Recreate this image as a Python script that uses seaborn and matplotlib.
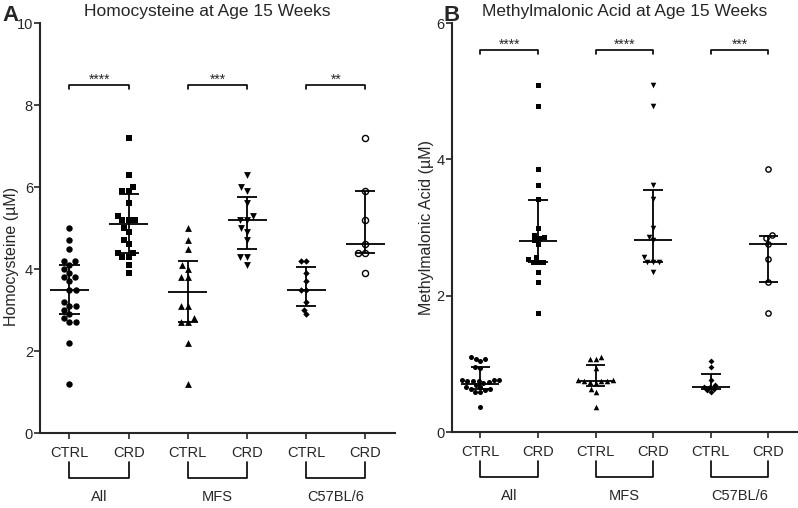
import numpy as np
import pandas as pd
import matplotlib
matplotlib.use("Agg")
import matplotlib.pyplot as plt
import seaborn as sns

# --- data ---
order = ["All CTRL", "All CRD", "MFS CTRL", "MFS CRD", "C57 CTRL", "C57 CRD"]
tick_names = ["CTRL", "CRD", "CTRL", "CRD", "CTRL", "CRD"]
strains = ["All", "MFS", "C57BL/6"]
markers = ["o", "s", "^", "v", "D", "o"]

# Homocysteine (uM)
hcy_all_ctrl = [5.0, 4.7, 4.5, 4.2, 4.2, 4.1, 4.0, 3.9, 3.8, 3.8, 3.7, 3.5, 3.5, 3.2,
                3.1, 3.1, 3.0, 2.9, 2.8, 2.7, 2.7, 2.2, 1.2]
hcy_all_crd = [7.2, 6.3, 6.0, 5.9, 5.9, 5.6, 5.3, 5.2, 5.2, 5.2, 5.0, 4.9, 4.7, 4.6,
               4.4, 4.4, 4.3, 4.3, 4.1, 3.9]
hcy_mfs_ctrl = [5.0, 4.7, 4.5, 4.1, 4.0, 3.8, 3.8, 3.1, 3.1, 2.8, 2.7, 2.7, 2.2, 1.2]
hcy_mfs_crd = [6.3, 6.0, 5.9, 5.6, 5.3, 5.2, 5.2, 5.0, 4.9, 4.7, 4.3, 4.3, 4.1]
hcy_c57_ctrl = [4.2, 4.2, 3.9, 3.7, 3.5, 3.5, 3.2, 3.0, 2.9]
hcy_c57_crd = [7.2, 5.9, 5.2, 4.6, 4.4, 4.4, 3.9]
# median, 25th, 75th percentile bars
hcy_median = [3.5, 5.1, 3.45, 5.2, 3.5, 4.6]
hcy_q1 = [2.9, 4.4, 2.7, 4.5, 3.1, 4.4]
hcy_q3 = [4.1, 5.84, 4.2, 5.75, 4.05, 5.9]
hcy_stars = ["****", "***", "**"]

# Methylmalonic acid (uM)
mma_all_ctrl = [1.10, 1.07, 1.07, 1.04, 0.95, 0.94, 0.76, 0.76, 0.76, 0.75, 0.75, 0.75,
                0.74, 0.72, 0.69, 0.66, 0.66, 0.63, 0.63, 0.62, 0.59, 0.58, 0.37]
mma_all_crd = [5.09, 4.79, 3.86, 3.62, 3.42, 2.99, 2.89, 2.86, 2.85, 2.81, 2.76, 2.57,
               2.54, 2.50, 2.50, 2.50, 2.35, 2.20, 1.74]
mma_mfs_ctrl = [1.10, 1.07, 1.07, 0.94, 0.76, 0.76, 0.75, 0.75, 0.75, 0.74, 0.72, 0.63,
                0.58, 0.37]
mma_mfs_crd = [5.09, 4.79, 3.62, 3.42, 2.99, 2.86, 2.81, 2.57, 2.50, 2.50, 2.50, 2.35]
mma_c57_ctrl = [1.04, 0.95, 0.76, 0.69, 0.66, 0.66, 0.63, 0.62, 0.59]
mma_c57_crd = [3.86, 2.89, 2.85, 2.76, 2.54, 2.20, 1.74]
mma_median = [0.71, 2.80, 0.75, 2.82, 0.66, 2.76]
mma_q1 = [0.63, 2.49, 0.68, 2.49, 0.63, 2.20]
mma_q3 = [0.95, 3.41, 0.99, 3.55, 0.85, 2.88]
mma_stars = ["****", "****", "***"]

sns.set_theme(style="ticks")
plt.rcParams["font.family"] = ["Liberation Sans", "DejaVu Sans"]


def draw_panel(ax, groups, med, q1, q3, stars, star_y, drop, ylim, yticks,
               ylabel, title, sizes, label_xy, title_x):
    df = pd.DataFrame({
        "group": np.repeat(order, [len(g) for g in groups]),
        "value": np.concatenate(groups),
    })
    for name, mk, sz in zip(order, markers, sizes):
        sub = df[df["group"] == name]
        hollow = name == "C57 CRD"
        sns.swarmplot(data=sub, x="group", y="value", order=order, ax=ax,
                      marker=mk, size=sz,
                      color="white" if hollow else "black",
                      edgecolor="black", linewidth=1.0 if hollow else 0)

    # median with interquartile range
    for i in range(len(order)):
        ax.hlines(med[i], i - 0.33, i + 0.33, color="black", lw=1.3, zorder=3)
        ax.hlines([q1[i], q3[i]], i - 0.17, i + 0.17, color="black", lw=1.3, zorder=3)
        ax.vlines(i, q1[i], q3[i], color="black", lw=1.3, zorder=3)

    # significance brackets
    for k, s in enumerate(stars):
        x0, x1 = 2 * k, 2 * k + 1
        ax.plot([x0, x0, x1, x1], [star_y - drop, star_y, star_y, star_y - drop],
                color="black", lw=1.2, clip_on=False)
        ax.text((x0 + x1) / 2, star_y + drop * 0.3, s, ha="center", va="baseline",
                fontsize=10)

    ax.set_xlim(-0.5, 5.5)
    ax.set_ylim(*ylim)
    ax.set_yticks(yticks)
    ax.set_xticks(range(6))
    ax.set_xticklabels(tick_names, fontsize=10.5)
    ax.set_xlabel("")
    ax.set_ylabel(ylabel, fontsize=11.5)
    ax.yaxis.set_label_coords(*label_xy)
    ax.set_title(title, fontsize=12.5, pad=5, x=title_x)
    ax.tick_params(axis="y", labelsize=10.5, length=4, width=1.2, pad=1)
    ax.tick_params(axis="x", length=4, width=1.2, pad=5)
    sns.despine(ax=ax)
    for sp in ["left", "bottom"]:
        ax.spines[sp].set_linewidth(1.5)

    # strain brackets under the tick labels
    tr = ax.get_xaxis_transform()
    for k, strain in enumerate(strains):
        x0, x1 = 2 * k, 2 * k + 1
        ax.plot([x0, x0, x1, x1], [-0.071, -0.110, -0.110, -0.071], color="black",
                lw=1.2, transform=tr, clip_on=False)
        ax.text((x0 + x1) / 2, -0.156, strain, ha="center", va="center",
                fontsize=10.5, transform=tr)


fig = plt.figure(figsize=(7.98, 5.08), dpi=100)
ax_a = fig.add_axes([0.050, 0.1476, 0.445, 0.807])
ax_b = fig.add_axes([0.566, 0.1496, 0.433, 0.805])

draw_panel(ax_a,
           [hcy_all_ctrl, hcy_all_crd, hcy_mfs_ctrl, hcy_mfs_crd, hcy_c57_ctrl, hcy_c57_crd],
           hcy_median, hcy_q1, hcy_q3, hcy_stars, 8.5, 0.1, (0, 10), [0, 2, 4, 6, 8, 10],
           "Homocysteine (\u00b5M)", "Homocysteine at Age 15 Weeks",
           [4.6, 4.3, 4.9, 4.9, 3.3, 4.4], (-0.06, 0.43), 0.47)

draw_panel(ax_b,
           [mma_all_ctrl, mma_all_crd, mma_mfs_ctrl, mma_mfs_crd, mma_c57_ctrl, mma_c57_crd],
           mma_median, mma_q1, mma_q3, mma_stars, 5.6, 0.06, (0, 6), [0, 2, 4, 6],
           "Methylmalonic Acid (\u00b5M)", "Methylmalonic Acid at Age 15 Weeks",
           [3.6, 3.6, 4.0, 4.0, 3.0, 3.8], (-0.052, 0.5), 0.5)

fig.text(0.003, 0.99, "A", fontsize=16, fontweight="bold", va="top", ha="left")
fig.text(0.556, 0.99, "B", fontsize=16, fontweight="bold", va="top", ha="left")

fig.savefig("out.png", dpi=100)
